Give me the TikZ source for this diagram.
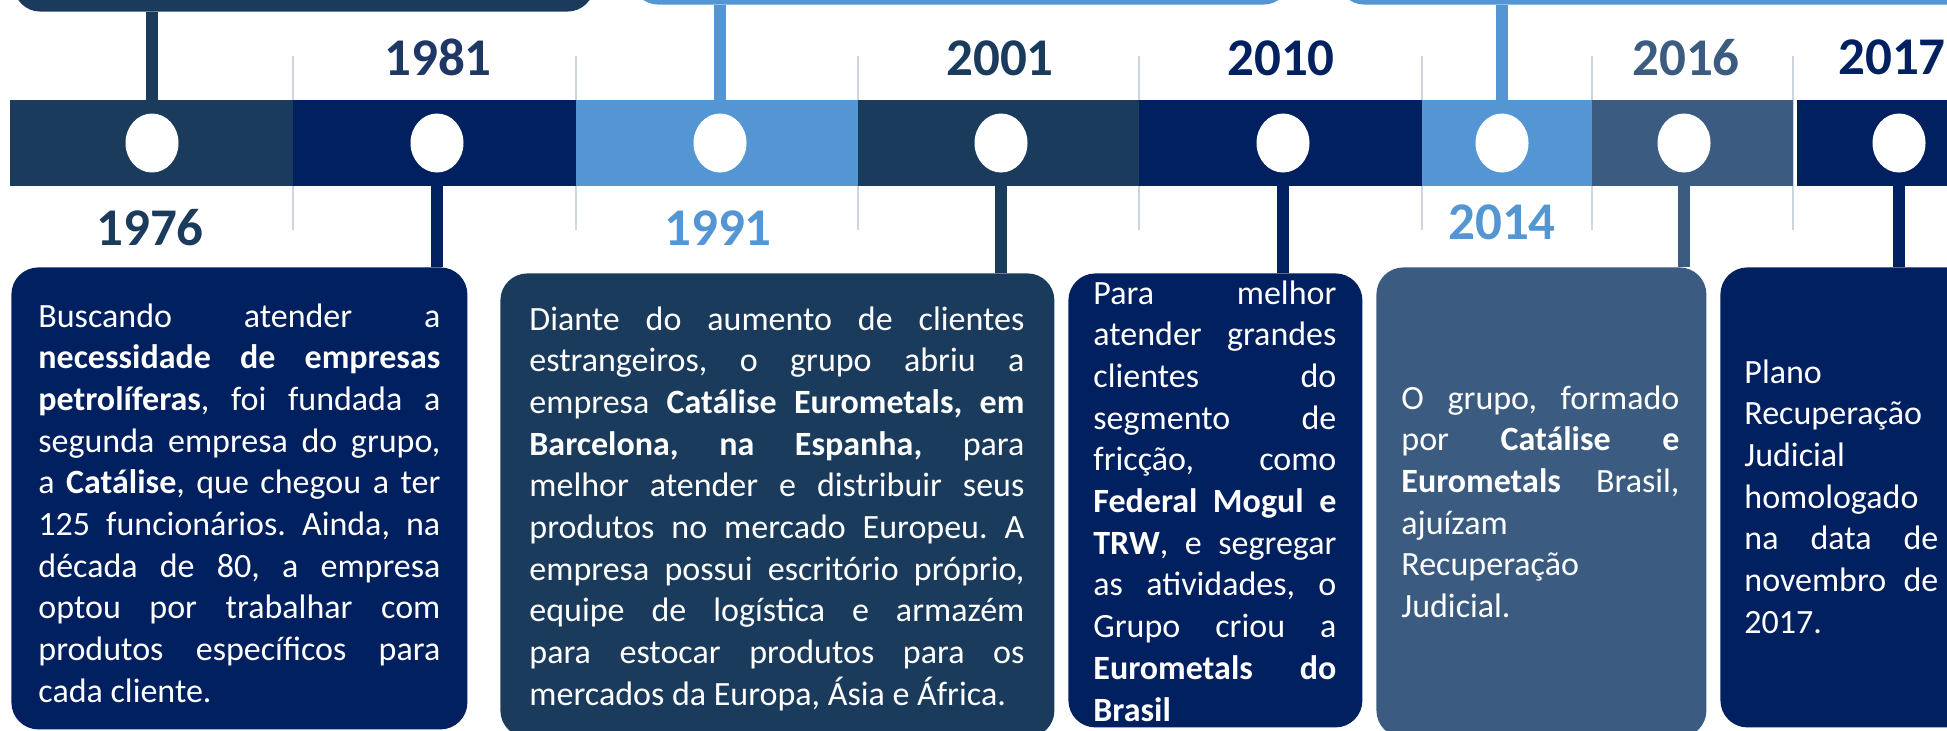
\documentclass[tikz,border=0pt]{standalone}
\usepackage{fontspec}
\setmainfont{Carlito}
\usetikzlibrary{shapes.geometric}
\pgfdeclarelayer{edgelayer}
\pgfsetlayers{edgelayer,main}
\definecolor{cslate}{RGB}{27,59,93}
\definecolor{cnavy}{RGB}{0,32,96}
\definecolor{clight}{RGB}{84,150,211}
\definecolor{cmid}{RGB}{59,92,128}
\definecolor{cyear}{RGB}{30,55,100}
\definecolor{cgrid}{RGB}{205,213,224}
\tolerance=10000
\hbadness=10000
\hyphenpenalty=10000
\frenchspacing
\tikzstyle{seg}=[rectangle, inner sep=0pt, minimum height=43pt]
\tikzstyle{dot}=[ellipse, fill=white, inner sep=0pt, minimum width=26.5pt, minimum height=29.5pt]
\tikzstyle{stem}=[line width=6pt]
\tikzstyle{grid}=[draw=cgrid, line width=0.6pt]
\tikzstyle{year}=[inner sep=0pt, anchor=base, font=\fontsize{26.5}{30}\selectfont\bfseries]
\tikzstyle{card}=[rectangle, rounded corners=13.5pt, inner sep=0pt, anchor=north west]
\tikzstyle{note}=[text=white, inner sep=0pt, anchor=base west, align=justify, font=\fontsize{17}{20.85}\selectfont]

\begin{document}
\begin{tikzpicture}[x=0.5pt, y=-0.5pt]
    \useasboundingbox (0,0) rectangle (1947,730);
    \clip (0,0) rectangle (1947,730);
    % faixa do tempo
    \node [style=seg, fill=cslate, minimum width=141.5pt] (s1) at (151.5,143) {};
    \node [style=seg, fill=cnavy, minimum width=141.5pt] (s2) at (434.5,143) {};
    \node [style=seg, fill=clight, minimum width=141pt] (s3) at (717,143) {};
    \node [style=seg, fill=cslate, minimum width=140.5pt] (s4) at (998.5,143) {};
    \node [style=seg, fill=cnavy, minimum width=141.5pt] (s5) at (1280.5,143) {};
    \node [style=seg, fill=clight, minimum width=85pt] (s6) at (1507,143) {};
    \node [style=seg, fill=cmid, minimum width=100.5pt] (s7) at (1692.5,143) {};
    \node [style=seg, fill=cnavy, minimum width=81.5pt] (s8) at (1878.5,143) {};
    \node [style=dot] (c1) at (152,143) {};
    \node [style=dot] (c2) at (437,143) {};
    \node [style=dot] (c3) at (720,143) {};
    \node [style=dot] (c4) at (1001,143) {};
    \node [style=dot] (c5) at (1283,143) {};
    \node [style=dot] (c6) at (1502,143) {};
    \node [style=dot] (c7) at (1684,143) {};
    \node [style=dot] (c8) at (1899,143) {};
    % anos
    \node [style=year, text=cslate] (y1976) at (150,245) {1976};
    \node [style=year, text=cyear] (y1981) at (438,75) {1981};
    \node [style=year, text=clight] (y1991) at (718,245) {1991};
    \node [style=year, text=cslate] (y2001) at (1000,75) {2001};
    \node [style=year, text=cnavy] (y2010) at (1281,75) {2010};
    \node [style=year, text=clight] (y2014) at (1502,239) {2014};
    \node [style=year, text=cmid] (y2016) at (1686,75) {2016};
    \node [style=year, text=cnavy] (y2017) at (1892,74) {2017};
    % caixas de cima
    \node [style=card, anchor=south west, fill=cslate, minimum width=290.5pt, minimum height=60pt] (topA) at (13,12) {};
    \node [style=card, anchor=south west, fill=clight, minimum width=329.5pt, minimum height=60pt] (topB) at (631,5) {};
    \node [style=card, anchor=south west, fill=clight, minimum width=321.5pt, minimum height=60pt] (topC) at (1337,5) {};
    % caixas de baixo
    \node [style=card, fill=cnavy, minimum width=228pt, minimum height=231pt] (t1) at (11,267) {};
    \node [style=card, fill=cslate, minimum width=277pt, minimum height=232pt] (t2) at (500,273) {};
    \node [style=card, fill=cnavy, minimum width=147pt, minimum height=227pt] (t3) at (1068,273) {};
    \node [style=card, fill=cmid, minimum width=165pt, minimum height=235pt] (t4) at (1376,267) {};
    \node [style=card, fill=cnavy, minimum width=130pt, minimum height=230pt] (t5) at (1720,267) {};
    \node [style=note, text width=201pt] (n1) at (38,327) {Buscando atender a\linebreak
        \textbf{necessidade de empresas}\linebreak
        \textbf{petrolíferas}, foi fundada a\linebreak
        segunda empresa do grupo,\linebreak
        a \textbf{Catálise}, que chegou a ter\linebreak
        125 funcionários. Ainda, na\linebreak
        década de 80, a empresa\linebreak
        optou por trabalhar com\linebreak
        produtos específicos para\linebreak
        cada cliente.};
    \node [style=note, text width=247.5pt] (n2) at (529,330) {Diante do aumento de clientes\linebreak
        estrangeiros, o grupo abriu a\linebreak
        empresa \textbf{Catálise Eurometals, em}\linebreak
        \textbf{Barcelona, na Espanha,} para\linebreak
        melhor atender e distribuir seus\linebreak
        produtos no mercado Europeu. A\linebreak
        empresa possui escritório próprio,\linebreak
        equipe de logística e armazém\linebreak
        para estocar produtos para os\linebreak
        mercados da Europa, Ásia e África.};
    \node [style=note, text width=121.5pt] (n3) at (1093,304) {Para melhor\linebreak
        atender grandes\linebreak
        clientes do\linebreak
        segmento de\linebreak
        fricção, como\linebreak
        \textbf{Federal Mogul e}\linebreak
        \textbf{TRW}, e segregar\linebreak
        as atividades, o\linebreak
        Grupo criou a\linebreak
        \textbf{Eurometals do}\linebreak
        \textbf{Brasil}};
    \node [style=note, text width=139pt] (n4) at (1401,409) {O grupo, formado\linebreak
        por \textbf{Catálise e}\linebreak
        \textbf{Eurometals} Brasil,\linebreak
        ajuízam\\
        Recuperação\\
        Judicial.};
    \node [style=note, text width=97pt] (n5) at (1744,383) {Plano\\
        Recuperação\\
        Judicial\\
        homologado\\
        na data de\linebreak
        novembro de\linebreak
        2017.};
    \begin{pgfonlayer}{edgelayer}
        \foreach \gx in {293,576,858,1139,1422,1592,1793}
            \draw [style=grid] (\gx,56) -- (\gx,230);
        \draw [style=stem, draw=cslate] (c1) -- (c1 |- topA.south);
        \draw [style=stem, draw=cnavy] (c2) -- (c2 |- t1.north);
        \draw [style=stem, draw=clight] (c3) -- (c3 |- topB.south);
        \draw [style=stem, draw=cslate] (c4) -- (c4 |- t2.north);
        \draw [style=stem, draw=cnavy] (c5) -- (c5 |- t3.north);
        \draw [style=stem, draw=clight] (c6) -- (c6 |- topC.south);
        \draw [style=stem, draw=cmid] (c7) -- (c7 |- t4.north);
        \draw [style=stem, draw=cnavy] (c8) -- (c8 |- t5.north);
    \end{pgfonlayer}
\end{tikzpicture}
\end{document}
